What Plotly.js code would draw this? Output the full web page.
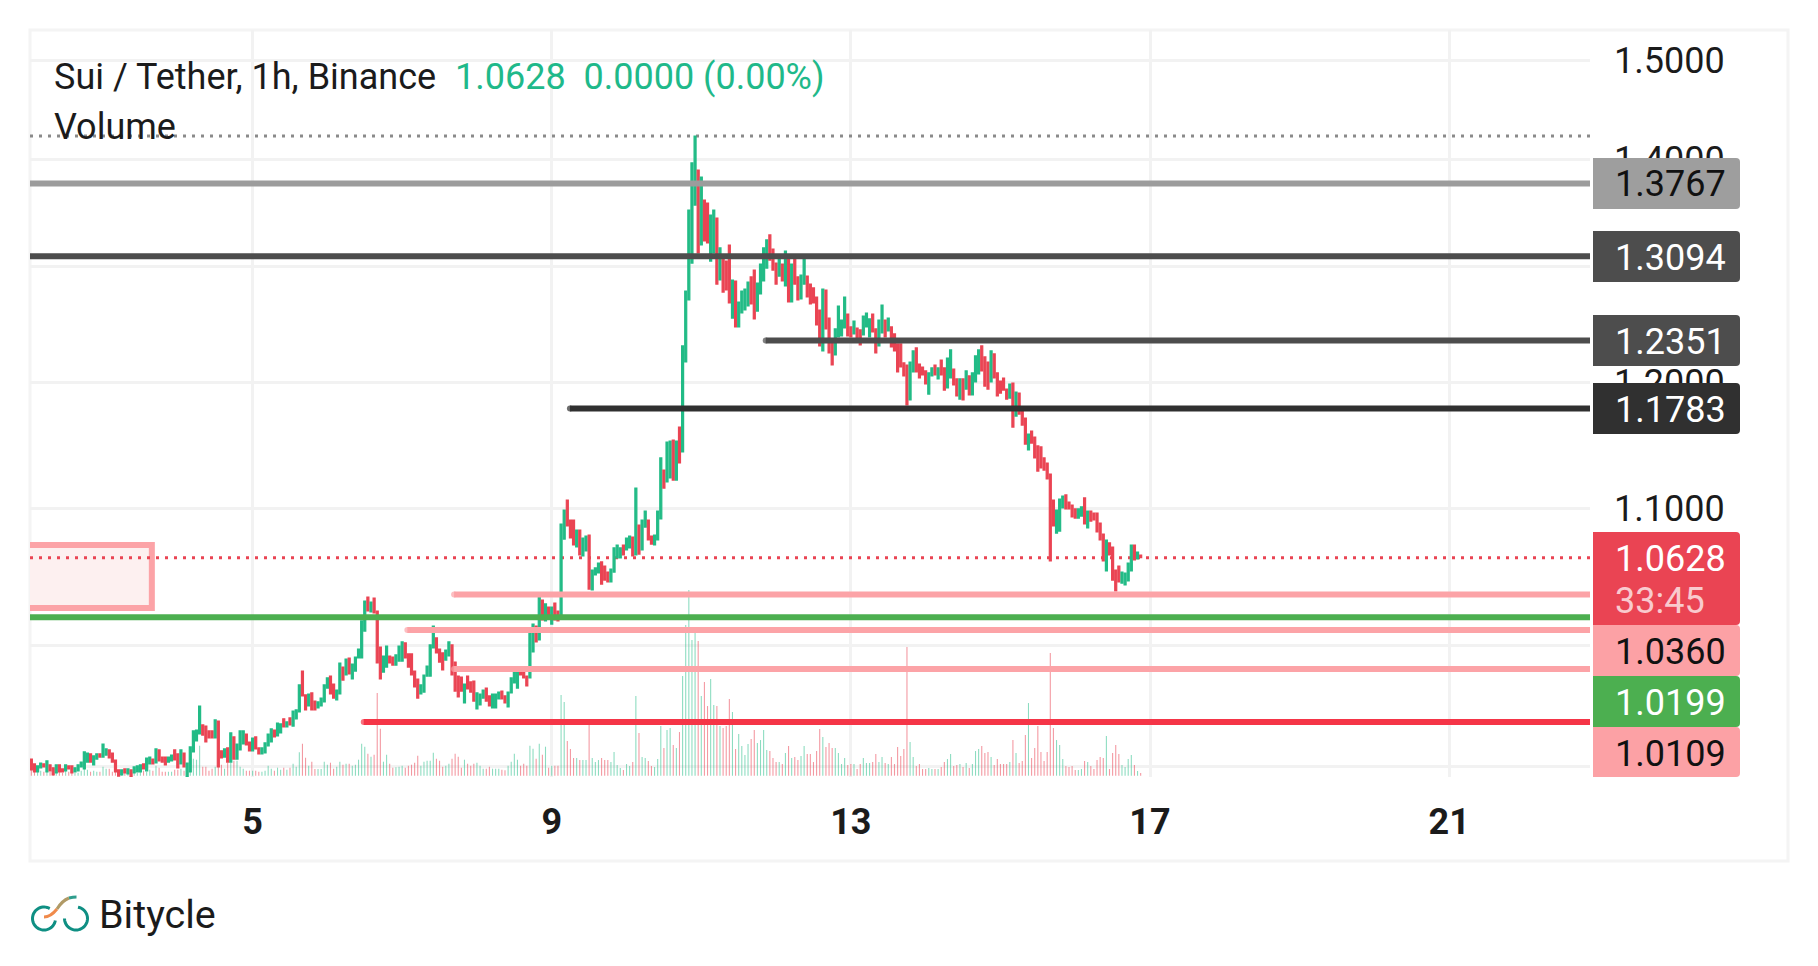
<!DOCTYPE html>
<html>
<head>
<meta charset="utf-8">
<script src="https://cdn.plot.ly/plotly-3.0.1.min.js"></script>
<style>html,body{margin:0;padding:0;background:#fff}#chart{width:1818px;height:966px}</style>
</head>
<body>
<div id="chart"></div>
<script>
// ---------- data ----------
const firstCandle = '2024-06-02T01:00:00Z';
const highs = [
.9245,.9214,.9201,.9220,.9214,.9233,.9208,.9189,.9208,.9208,
.9182,.9208,.9201,.9201,.9189,.9208,.9226,.9291,.9284,.9278,
.9265,.9278,.9278,.9342,.9310,.9304,.9284,.9239,.9176,.9176,
.9182,.9182,.9176,.9195,.9201,.9208,.9214,.9252,.9258,.9245,
.9310,.9304,.9258,.9258,.9258,.9271,.9304,.9278,.9304,.9284,
.9220,.9323,.9427,.9433,.9591,.9466,.9459,.9427,.9427,.9499,
.9492,.9298,.9310,.9317,.9414,.9388,.9342,.9427,.9427,.9407,
.9355,.9381,.9388,.9317,.9317,.9349,.9407,.9440,.9433,.9479,
.9473,.9506,.9486,.9512,.9558,.9565,.9732,.9826,.9665,.9671,
.9678,.9624,.9618,.9644,.9732,.9779,.9792,.9738,.9698,.9881,
.9853,.9908,.9915,.9874,.9922,.9977,1.0173,1.0314,1.0342,1.0307,
1.0335,1.0243,.9991,.9929,.9998,.9929,.9922,.9936,.9998,1.0026,
1.0019,.9943,.9943,.9826,.9772,.9732,.9799,.9860,1.0005,1.0137,
1.0054,.9977,.9950,.9970,1.0026,1.0005,.9887,.9792,.9785,.9738,
.9792,.9752,.9758,.9678,.9671,.9698,.9711,.9658,.9671,.9671,
.9684,.9691,.9658,.9684,.9779,.9833,.9826,.9826,.9819,.9792,
1.0095,1.0151,1.0137,1.0342,1.0321,1.0293,1.0271,1.0271,1.0300,1.0243,
1.0879,1.0985,1.1061,1.0909,1.0909,1.0834,1.0834,1.0774,1.0789,1.0796,
1.0538,1.0553,1.0589,1.0597,1.0567,1.0523,1.0545,1.0700,1.0722,1.0700,
1.0722,1.0774,1.0789,1.0781,1.1153,1.0871,1.0909,1.0977,1.0909,1.0789,
1.0796,1.0977,1.1388,1.1293,1.1514,1.1522,1.1530,1.1522,1.1634,1.2306,
1.2783,1.3520,1.3968,1.4231,1.3900,1.3833,1.3614,1.3586,1.3473,1.3520,
1.3445,1.3170,1.3105,1.3051,1.3197,1.2881,1.2872,1.2686,1.2783,1.2801,
1.2863,1.2908,1.2970,1.2854,1.3024,1.3170,1.3243,1.3289,1.3160,1.3033,
1.3069,1.3024,1.3142,1.3069,1.3024,1.3069,1.2908,1.2925,1.3069,1.2916,
1.2845,1.2810,1.2730,1.2616,1.2801,1.2792,1.2546,1.2357,1.2452,1.2651,
1.2529,1.2730,1.2581,1.2469,1.2520,1.2460,1.2443,1.2564,1.2590,1.2538,
1.2581,1.2452,1.2529,1.2660,1.2529,1.2546,1.2469,1.2409,1.2323,1.2323,
1.2162,1.2145,1.2170,1.2264,1.2289,1.2153,1.2128,1.2095,1.2078,1.2120,
1.2145,1.2120,1.2187,1.2120,1.2204,1.2272,1.2111,1.2028,1.2028,1.2028,
1.2095,1.2053,1.2078,1.2221,1.2272,1.2306,1.2213,1.2170,1.2264,1.2238,
1.2078,1.2011,1.2036,1.1944,1.1986,1.1994,1.1920,1.1911,1.1764,1.1707,
1.1578,1.1602,1.1554,1.1483,1.1475,1.1388,1.1348,1.1262,1.1061,1.0985,
1.1069,1.1092,1.1100,1.1046,1.1023,1.0993,1.0993,1.1008,1.1077,1.0977,
1.0977,1.0962,1.0962,1.0886,1.0804,1.0759,1.0737,1.0707,1.0538,1.0567,
1.0523,1.0516,1.0589,1.0722,1.0722,1.0670,1.0648];
const lows = [
.9176,.9163,.9163,.9189,.9195,.9163,.9170,.9144,.9157,.9163,
.9163,.9170,.9182,.9157,.9163,.9170,.9195,.9182,.9226,.9226,
.9208,.9245,.9258,.9258,.9271,.9252,.9226,.9163,.9137,.9144,
.9157,.9150,.9131,.9157,.9163,.9163,.9182,.9170,.9214,.9214,
.9220,.9233,.9226,.9208,.9226,.9233,.9239,.9189,.9214,.9195,
.9131,.9163,.9291,.9362,.9407,.9400,.9355,.9381,.9381,.9381,
.9195,.9252,.9258,.9226,.9226,.9245,.9245,.9304,.9342,.9336,
.9298,.9298,.9310,.9278,.9278,.9284,.9330,.9355,.9388,.9394,
.9414,.9453,.9453,.9466,.9459,.9506,.9552,.9658,.9565,.9591,
.9565,.9565,.9578,.9591,.9618,.9711,.9671,.9644,.9631,.9671,
.9765,.9799,.9806,.9772,.9826,.9915,.9915,1.0102,1.0243,1.0236,
1.0229,.9881,.9772,.9819,.9853,.9881,.9867,.9867,.9894,.9894,
.9915,.9853,.9799,.9718,.9644,.9671,.9684,.9792,.9792,.9984,
.9950,.9887,.9833,.9901,.9929,.9799,.9691,.9651,.9691,.9611,
.9705,.9684,.9624,.9571,.9598,.9644,.9624,.9591,.9578,.9578,
.9638,.9638,.9611,.9585,.9678,.9745,.9711,.9799,.9779,.9725,
.9779,.9957,1.0026,1.0040,1.0180,1.0173,1.0194,1.0151,1.0180,1.0173,
1.0194,1.0766,1.0864,1.0774,1.0722,1.0707,1.0648,1.0641,1.0678,1.0400,
1.0393,1.0502,1.0516,1.0436,1.0465,1.0451,1.0451,1.0523,1.0626,1.0626,
1.0648,1.0685,1.0700,1.0641,1.0648,1.0655,1.0685,1.0856,1.0759,1.0729,
1.0722,1.0759,1.0917,1.1153,1.1200,1.1231,1.1215,1.1215,1.1348,1.1435,
1.2170,1.2704,1.3033,1.3567,1.3124,1.3197,1.3234,1.3216,1.3051,1.3124,
1.2845,1.2881,1.2774,1.2792,1.2678,1.2546,1.2469,1.2469,1.2590,1.2616,
1.2651,1.2669,1.2538,1.2607,1.2757,1.2872,1.2988,1.3060,1.2970,1.2845,
1.2916,1.2872,1.2828,1.2686,1.2686,1.2845,1.2704,1.2713,1.2845,1.2730,
1.2669,1.2678,1.2486,1.2306,1.2264,1.2452,1.2247,1.2145,1.2230,1.2383,
1.2391,1.2460,1.2391,1.2383,1.2409,1.2374,1.2315,1.2400,1.2469,1.2383,
1.2426,1.2247,1.2306,1.2417,1.2383,1.2434,1.2298,1.2264,1.2086,1.2128,
1.2053,1.1813,1.1854,1.2086,1.2086,1.2036,1.2061,1.1986,1.1903,1.2053,
1.2061,1.2028,1.2061,1.1936,1.1953,1.2036,1.1978,1.1887,1.1862,1.1854,
1.1944,1.1895,1.1895,1.2003,1.2070,1.2095,1.1969,1.1944,1.2003,1.2036,
1.1887,1.1911,1.1936,1.1862,1.1870,1.1634,1.1723,1.1739,1.1650,1.1498,
1.1451,1.1506,1.1388,1.1285,1.1309,1.1293,1.1223,1.0604,1.0864,1.0811,
1.0826,1.1000,1.0993,1.0993,1.0932,1.0924,1.0924,1.0939,1.0879,1.0849,
1.0901,1.0909,1.0819,1.0759,1.0604,1.0531,1.0648,1.0465,1.0386,1.0451,
1.0443,1.0429,1.0458,1.0531,1.0611,1.0619,1.0628];
const directions = [
"rrggrgrrgr","rgrrgggggr","ggrggrrrrg","rgrgggrggr","grrrggrrgr","gggggrrrrg",
"rrgrgrgggr","rgrrggggrg","grgrgggrrg","rrggggrrgg","rgrgggggrg","rrrggrrggg",
"rrrrrggggg","rrrggrrrrg","rrrgggrrgg","grrggggrrr","ggrgrgrgrr","ggrrrgrggr",
"gggrrrgggg","rggrgrggrr","gggrggrgrg","ggggrgrrgg","rgrrrgrggg","grrggggrrr",
"grgrgrrggr","rrrrgrrrgg","ggrrgrrggg","rrggrgrrrr","rrggrrrrgg","rgrrggrrgr",
"grgggrrrgr","rrrrgrgrrr","grrrrrrrrg","ggrrrrggrg","rrrrrgrrrr","ggggrgr"].join("");
const volumes = [
18,12,12,15,12,15,12,9,15,12,
9,15,12,9,9,9,15,30,18,12,
15,12,12,27,21,21,12,12,15,6,
12,9,9,12,9,12,15,12,18,15,
30,24,12,12,12,12,18,18,21,15,
24,51,51,48,90,27,27,15,21,27,
27,33,21,39,39,45,45,27,21,15,
15,15,15,12,12,15,30,21,15,24,
18,24,18,24,36,27,70,96,54,30,
42,20,20,20,42,33,39,21,27,42,
33,36,36,30,33,48,96,87,66,57,
63,248,141,42,63,36,24,25,27,30,
24,30,33,39,60,30,42,45,45,69,
51,45,27,30,36,51,66,57,24,48,
36,30,36,39,30,21,21,27,21,21,
21,18,16,30,42,66,48,30,36,30,
90,81,51,96,63,87,24,30,30,30,
242,221,104,80,53,53,47,47,47,160,
53,41,47,53,47,47,41,71,32,23,
17,35,29,41,239,128,56,53,44,29,
26,50,149,83,137,143,92,83,131,299,
452,557,407,428,404,239,281,209,290,212,
209,149,143,149,230,191,80,125,89,62,
95,110,137,98,107,137,77,74,53,41,
41,35,68,89,53,56,47,59,89,65,
65,41,74,140,116,86,98,83,83,68,
35,53,32,35,35,20,35,53,38,38,
41,65,41,56,38,35,56,35,86,59,
80,386,101,56,29,35,20,20,23,20,
20,20,26,41,50,65,29,32,35,26,
38,23,35,74,80,89,68,71,56,32,
50,35,35,35,41,107,68,38,44,122,
218,53,83,149,71,44,71,368,143,107,
92,50,29,26,29,17,17,20,44,41,
29,20,47,56,53,119,20,68,92,65,
32,26,50,62,32,14,8];

const lastPrice = 1.0628, sessionHigh = 1.4231;
const levelPrices = [1.3770, 1.3094, 1.2353, 1.1785, 1.0360, 1.0199, 1.0109, 0.9840, 0.9486];
const levelStarts = [null, null, '2024-06-11T20:40:00Z', '2024-06-09T05:50:00Z', '2024-06-07T16:40:00Z', null, '2024-06-07T01:40:00Z', '2024-06-07T16:40:00Z', '2024-06-06T11:40:00Z'];
const levelColors = ['#9c9c9c', '#4d4d4d', '#4d4d4d', '#303030', '#fca3a7', '#4caf50', '#fca3a7', '#fca3a7', '#f53547'];
const tagTexts = ['1.3767', '1.3094', '1.2351', '1.1783', '1.0628', '1.0360', '1.0199', '1.0109'];
const tagColors = ['#9e9e9e', '#4d4d4d', '#4d4d4d', '#303030', '#ea4453', '#fca1a5', '#4caf50', '#fca1a5'];
const tagFont = ['#111', '#fff', '#fff', '#fff', '#fff', '#111', '#fff', '#111'];
const priceTicks = [1.5, 1.4, 1.3, 1.2, 1.1, 1.0, 0.92];
const priceTickText = ['1.5000', '1.4000', '1.3000', '1.2000', '1.1000', '1.0000', ' '];
const dayTicks = ['2024-06-05', '2024-06-09', '2024-06-13', '2024-06-17', '2024-06-21'];
const dayTickText = ['5', '9', '13', '17', '21'];
const zoneTop = 1.0722, zoneBottom = 1.0265, zoneEnd = '2024-06-03T15:40:00Z', zoneStart = '2024-05-30';

// ---------- layout geometry ----------
const W = 1818, H = 966, L = 30, R = 1590, T = 30, B = 777;
const xRange = ['2024-06-02T00:34:00Z', '2024-06-22T21:12:00Z'];
const logRange = [-0.03948, 0.18511];
const green = '#22bb86', red = '#ea4453';
const FONT = 'Roboto, sans-serif', INK = '#1b1b1b';
const px = x => (x - L) / (R - L), py = y => (B - y) / (B - T);

const start = new Date(firstCandle).getTime();
const times = highs.map((_, i) => new Date(start + i * 3600e3).toISOString());
const opens = highs.map((h, i) => directions[i] === 'g' ? lows[i] : h);
const closes = highs.map((h, i) => directions[i] === 'g' ? h : lows[i]);

const traces = [];
// volume on the bottom subplot layer
traces.push({
  type: 'bar', x: times, y: volumes, yaxis: 'y', xaxis: 'x', width: 1.25e6,
  marker: {color: volumes.map((_, i) => directions[i] === 'g' ? 'rgba(34,187,134,0.52)' : 'rgba(234,68,83,0.55)'), line: {width: 0}},
  hoverinfo: 'skip'
});
// dotted price lines above the grid and below the candles
[[lastPrice, red], [sessionHigh, '#8a8a8a']].forEach(d => traces.push({
  type: 'scatter', mode: 'lines', x: xRange, y: [d[0], d[0]], yaxis: 'y2', xaxis: 'x',
  line: {color: d[1], width: 3, dash: '3px,6px'}, hoverinfo: 'skip'
}));
traces.push({
  type: 'candlestick', x: times, open: opens, high: highs, low: lows, close: closes, yaxis: 'y3', xaxis: 'x',
  increasing: {line: {color: green, width: 1.2}, fillcolor: green},
  decreasing: {line: {color: red, width: 1.2}, fillcolor: red},
  hoverinfo: 'skip'
});
levelPrices.forEach((p, i) => {
  const s = levelStarts[i];
  traces.push({
    type: 'scatter', mode: s ? 'lines+markers' : 'lines', x: [s || xRange[0], xRange[1]], y: [p, p], yaxis: 'y3', xaxis: 'x',
    line: {color: levelColors[i], width: 6}, marker: {color: levelColors[i], size: [6, 0], line: {width: 0}}, hoverinfo: 'skip'
  });
});

// ---------- tags on the price scale ----------
const tagBoxes = [[158, 209], [231, 282], [315, 366], [383, 434], [532, 625], [625, 676], [676, 727], [727, 777]];
const tagCentres = [184, 258, 342, 410, 559, 652, 703, 754];
const rounded = (x0, x1, y0, y1, r) =>
  `M${px(x0)},${py(y0)} L${px(x1 - r)},${py(y0)} Q${px(x1)},${py(y0)} ${px(x1)},${py(y0 + r)} ` +
  `L${px(x1)},${py(y1 - r)} Q${px(x1)},${py(y1)} ${px(x1 - r)},${py(y1)} L${px(x0)},${py(y1)} Z`;
const shapes = [
  {type: 'rect', xref: 'paper', yref: 'paper', layer: 'below', x0: px(30), x1: px(1788), y0: py(861), y1: py(30), line: {color: '#f4f4f4', width: 3}, fillcolor: 'rgba(0,0,0,0)'},
  {type: 'rect', xref: 'x', yref: 'y3', layer: 'below', x0: zoneStart, x1: zoneEnd, y0: zoneBottom, y1: zoneTop, line: {color: '#fca3a7', width: 6}, fillcolor: '#fdf0f0'}
];
tagBoxes.forEach((b, i) => shapes.push({type: 'path', xref: 'paper', yref: 'paper', layer: 'above', path: rounded(1593, 1740, b[0], b[1], 4), fillcolor: tagColors[i], line: {width: 0}}));

// ---------- logo ----------
const arc = (cx, cy, r, a0, a1) => {
  let d = '';
  for (let k = 0; k <= 40; k++) {
    const a = (a0 + (a1 - a0) * k / 40) * Math.PI / 180;
    d += (k ? 'L' : 'M') + px(cx + r * Math.cos(a)) + ',' + py(cy + r * Math.sin(a)) + ' ';
  }
  return d;
};
const curve = (a, b, c, d) => `M${px(a[0])},${py(a[1])} C${px(b[0])},${py(b[1])} ${px(c[0])},${py(c[1])} ${px(d[0])},${py(d[1])}`;
const logoLine = (path, color) => ({type: 'path', xref: 'paper', yref: 'paper', layer: 'above', path, line: {color, width: 3}, fillcolor: 'rgba(0,0,0,0)'});
shapes.push(logoLine(arc(44, 918.5, 11.5, 300, 10), '#0f8f83'));
shapes.push(logoLine(arc(76, 918.5, 11.5, 180, -80), '#0f8f83'));
shapes.push(logoLine(curve([44, 917], [49, 917], [53, 914], [57, 909]), '#f08a4b'));
shapes.push(logoLine(curve([57, 909], [60, 904], [64, 900], [69, 898]), '#b09a66'));
shapes.push(logoLine(curve([69, 898], [71, 897.5], [74, 897], [76.5, 897]), '#2f9d8d'));

// ---------- text ----------
const note = (text, x, y, size, color, extra) => Object.assign({
  text, x: px(x), y: py(y), xref: 'paper', yref: 'paper', xanchor: 'left', yanchor: 'middle', showarrow: false,
  font: {family: FONT, size, color}, align: 'left', borderpad: 0
}, extra || {});
const annotations = [
  note('Sui / Tether, 1h, Binance', 53, 77, 36, INK),
  note('1.0628  0.0000 (0.00%)', 454, 77, 36, '#1fb98a'),
  note('Volume', 53, 127, 36, INK),
  note('Bitycle', 98, 914, 39.5, INK),
  note('33:45', 1614, 601, 36, 'rgba(255,255,255,0.72)')
];
tagTexts.forEach((t, i) => annotations.push(note(t, 1614, tagCentres[i], 36, tagFont[i])));

const layout = {
  width: W, height: H, margin: {l: L, r: W - R, t: T, b: H - B, pad: 0},
  paper_bgcolor: '#fff', plot_bgcolor: '#fff', showlegend: false, hovermode: false, barmode: 'overlay',
  boxgap: 0.08, dragmode: false, shapes, annotations,
  xaxis: {
    type: 'date', range: xRange, tickmode: 'array', tickvals: dayTicks, ticktext: dayTickText,
    tickfont: {family: FONT, size: 36, color: INK, weight: 700}, ticks: '', ticklabelstandoff: 20,
    showgrid: true, gridcolor: '#f2f2f2', gridwidth: 3, showline: false, zeroline: false,
    rangeslider: {visible: false}, tickangle: 0, automargin: false
  },
  yaxis: {range: [-3.9, 2237], visible: false, showgrid: false, zeroline: false, fixedrange: true},
  yaxis2: {type: 'log', range: logRange, overlaying: 'y', visible: false, showgrid: false, zeroline: false},
  yaxis3: {
    type: 'log', range: logRange, overlaying: 'y', side: 'right', anchor: 'x',
    tickmode: 'array', tickvals: priceTicks, ticktext: priceTickText,
    tickfont: {family: FONT, size: 36, color: INK}, ticks: '', ticklabelstandoff: 23,
    showgrid: true, gridcolor: '#f2f2f2', gridwidth: 3, showline: false, zeroline: false, automargin: false
  }
};
Plotly.newPlot('chart', traces, layout, {displayModeBar: false, staticPlot: true});
</script>
</body>
</html>
